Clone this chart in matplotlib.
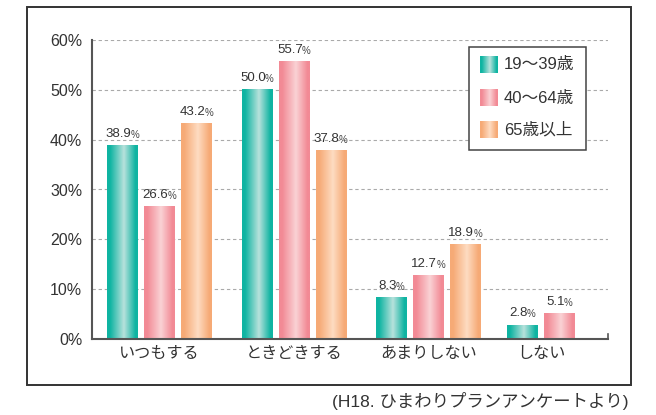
import numpy as np
import matplotlib
matplotlib.use("Agg")
import matplotlib.pyplot as plt
from matplotlib.patches import Rectangle
from matplotlib.colors import LinearSegmentedColormap

plt.rcParams['font.family'] = ['Liberation Sans', 'Noto Sans CJK JP', 'DejaVu Sans']

categories = ["いつもする", "ときどきする", "あまりしない", "しない"]
series_names = ["19～39歳", "40～64歳", "65歳以上"]
values_19_39 = [38.9, 50.0, 8.3, 2.8]
values_40_64 = [26.6, 55.7, 12.7, 5.1]
values_65 = [43.2, 37.8, 18.9, None]
yticks = [0, 10, 20, 30, 40, 50, 60]
ytick_labels = ["0%", "10%", "20%", "30%", "40%", "50%", "60%"]
footnote = "(H18. ひまわりプランアンケートより)"

series = [values_19_39, values_40_64, values_65]
edge_cols = ["#0fb4a2", "#f28a95", "#f6aa76"]
mid_cols = ["#b8e2dc", "#fad2d5", "#fedcc2"]

cat_pos = [0, 1, 2, 2.836]
bar_w = 0.23
step = 0.275

fig = plt.figure(figsize=(6.56, 4.15), dpi=100)
ax = fig.add_axes([92/656, 1-339/415, (608-92)/656, (339-40)/415])

# outer frame
fig.patches.append(Rectangle((27/656, 1-385/415), (631-27)/656, (385-7)/415,
                             transform=fig.transFigure, fill=False,
                             edgecolor="#333333", linewidth=1.4, zorder=0))

cmaps = []
for e, m in zip(edge_cols, mid_cols):
    cmaps.append(LinearSegmentedColormap.from_list(
        "g", [(0, e), (0.1, e), (0.55, m), (0.92, e), (1, e)]))
grad = np.linspace(0, 1, 128).reshape(1, -1)

for ci, cp in enumerate(cat_pos):
    present = [si for si in range(3) if series[si][ci] is not None]
    n = len(present)
    for k, si in enumerate(present):
        v = series[si][ci]
        x = cp + (k - (n - 1) / 2) * step
        b = ax.bar(x, v, width=bar_w, color="none", edgecolor="none", zorder=3)[0]
        x0 = b.get_x()
        ax.imshow(grad, extent=(x0, x0 + b.get_width(), 0, b.get_height()),
                  cmap=cmaps[si], aspect="auto", zorder=3, interpolation="bilinear")
        t = ax.annotate(f"{v:.1f}", (x, v), xytext=(-3, 4), textcoords="offset points",
                        ha="center", va="bottom", fontsize=9.5, color="#333333", zorder=5)
        ax.annotate("%", xy=(1, 0), xycoords=t, xytext=(-0.6, 0), textcoords="offset points",
                    ha="left", va="bottom", fontsize=7, color="#444444", zorder=5)

ax.set_xlim(-0.502, 3.335)
ax.set_ylim(0, 60)
ax.set_yticks(yticks)
ax.set_yticklabels(ytick_labels, fontsize=11.5, color="#333333")
ax.set_xticks(cat_pos)
ax.set_xticklabels(categories, fontsize=11.6, color="#333333")
ax.tick_params(axis="both", length=0)
ax.tick_params(axis="y", pad=7)
ax.tick_params(axis="x", pad=5)

for y in yticks[1:]:
    ax.axhline(y, color="#aaaaaa", linewidth=0.8, linestyle=(0, (3, 2.5)), zorder=1)

for s in ["top", "right"]:
    ax.spines[s].set_visible(False)
for s in ["left", "bottom"]:
    ax.spines[s].set_color("#555555")
    ax.spines[s].set_linewidth(1.5)
    ax.spines[s].set_zorder(4)
ax.plot([1, 1], [0, 0.018], transform=ax.transAxes, color="#555555", lw=1.2, clip_on=False)

# legend
lx0, ly0, lx1, ly1 = 469, 47, 586, 150
fig.patches.append(Rectangle((lx0/656, 1-ly1/415), (lx1-lx0)/656, (ly1-ly0)/415,
                             transform=fig.transFigure, facecolor="white",
                             edgecolor="#444444", linewidth=1.1, zorder=6))
row_y = [65, 98, 130]
for si, (name, ry) in enumerate(zip(series_names, row_y)):
    lax = fig.add_axes([480/656, 1-(ry+8.5)/415, 18/656, 17/415])
    lax.imshow(grad, cmap=cmaps[si], aspect="auto", interpolation="bilinear")
    lax.set_axis_off()
    lax.set_zorder(7)
    fig.text(504/656, 1-ry/415, name, fontsize=12, color="#333333",
             ha="left", va="center", zorder=8)

fig.text(628/656, 1-401/415, footnote, fontsize=12.5, color="#333333",
         ha="right", va="center")

fig.savefig("out.png", dpi=100)
